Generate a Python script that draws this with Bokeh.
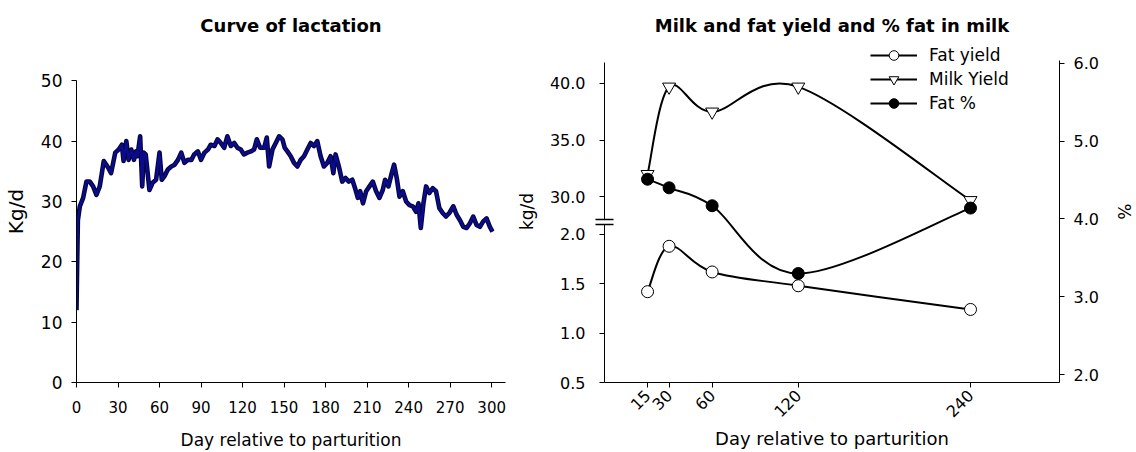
import math
import numpy as np
from bokeh.plotting import figure
from bokeh.layouts import row
from bokeh.models import (Range1d, LinearAxis, FixedTicker, NumeralTickFormatter,
                          Legend, LegendItem, Title)
from bokeh.embed import file_html
from bokeh.resources import INLINE

FONT = "DejaVu Sans"

# ---------------- Left panel data: daily milk yield ----------------
lact_day = [0, 0.5, 1.0, 2.4, 4.8, 7.2, 9.6, 12.0, 14.4, 16.8, 19.7, 22.4, 25.0, 28.0,
            30.5, 32.8, 34.0, 36.0, 37.6, 39.6, 41.5, 43.0, 44.0, 46.0, 47.5, 48.6, 50.0,
            52.7, 55.0, 57.5, 60.0, 61.6, 63.6, 66.0, 68.5, 70.9, 73.3, 75.7, 78.0, 80.5,
            83.0, 85.0, 87.7, 90.0, 92.5, 95.0, 97.0, 99.7, 101.9, 104.3, 106.7, 109.0,
            111.5, 114.0, 116.3, 118.7, 121.0, 123.5, 126.0, 128.3, 130.3, 132.7, 135.6,
            137.5, 139.2, 141.6, 144.0, 146.4, 148.8, 150.5, 152.4, 154.8, 157.2, 159.6,
            162.0, 164.4, 166.8, 169.2, 171.6, 174.0, 176.4, 178.8, 181.2, 183.6, 185.6,
            187.2, 189.6, 192.0, 194.4, 196.8, 199.3, 201.7, 203.3, 205.0, 207.0, 209.3,
            211.7, 214.1, 216.5, 218.9, 221.3, 223.0, 225.4, 227.8, 229.5, 231.4, 233.4,
            235.8, 238.2, 240.6, 243.0, 245.4, 247.1, 248.8, 250.7, 252.6, 255.0, 257.4,
            259.8, 262.2, 264.6, 267.0, 269.4, 272.3, 274.7, 277.1, 279.5, 281.9, 284.3,
            286.7, 289.1, 291.5, 293.9, 296.3, 298.7, 300.6]
lact_kg = [12.0, 20.0, 26.9, 29.2, 30.6, 33.3, 33.3, 32.5, 31.1, 32.5, 36.7, 35.8, 34.7, 38.1,
           38.6, 39.4, 36.7, 40.0, 36.9, 38.6, 36.9, 38.3, 37.5, 40.8, 32.5, 38.1, 37.8,
           31.9, 33.1, 33.6, 38.1, 33.6, 34.2, 35.3, 35.8, 36.1, 36.9, 38.1, 36.4, 36.9,
           36.9, 37.8, 38.3, 36.9, 38.1, 38.6, 39.4, 39.2, 40.3, 39.7, 38.9, 40.8,
           39.2, 39.7, 38.9, 38.6, 37.8, 38.1, 38.3, 38.6, 40.3, 38.9, 38.9,
           40.6, 35.8, 38.6, 39.7, 40.8, 40.3, 38.9, 38.3, 37.5, 36.4, 35.8,
           36.9, 37.5, 38.6, 39.7, 39.2, 40.0, 37.5, 35.8, 36.4, 37.5, 34.7,
           37.8, 35.8, 33.3, 33.9, 33.3, 33.6, 31.9, 30.6, 31.7, 29.7, 31.7,
           32.5, 33.3, 31.7, 30.6, 31.9, 33.6, 32.5, 34.7, 36.1, 33.9, 30.8,
           31.7, 30.0, 29.4, 29.2, 28.3, 29.7, 25.6, 29.7, 32.5, 31.4, 32.2,
           31.7, 28.9, 28.1, 27.5, 28.1, 29.2, 27.8, 26.9, 25.8, 25.6, 26.4,
           27.5, 26.1, 25.8, 26.7, 27.2, 25.8, 25.0]
lact_xticks = [0, 30, 60, 90, 120, 150, 180, 210, 240, 270, 300]
lact_yticks = [0, 10, 20, 30, 40, 50]

# ---------------- Right panel data ----------------
samp_day = [15, 30, 60, 120, 240]
fat_yield = [1.42, 1.88, 1.62, 1.48, 1.24]      # kg/d (lower left scale)
milk_yield = [32.0, 39.7, 37.5, 39.7, 29.7]     # kg/d (upper left scale)
fat_pct = [4.51, 4.40, 4.17, 3.30, 4.14]        # % (right scale)
fy_ticks = [0.5, 1.0, 1.5, 2.0]
my_ticks = [30, 35, 40]
my_tick_labels = ["30.0", "35.0", "40.0"]
pct_ticks = [2, 3, 4, 5, 6]


def cardinal_beziers(x, y):
    """Catmull-Rom (cardinal) curve through the points, as Bezier segments."""
    px = [x[0]] + list(x) + [x[-1]]
    py = [y[0]] + list(y) + [y[-1]]
    out = dict(x0=[], y0=[], x1=[], y1=[], cx0=[], cy0=[], cx1=[], cy1=[])
    for i in range(1, len(px) - 2):
        out["x0"].append(px[i]); out["y0"].append(py[i])
        out["x1"].append(px[i + 1]); out["y1"].append(py[i + 1])
        out["cx0"].append(px[i] + (px[i + 1] - px[i - 1]) / 6)
        out["cy0"].append(py[i] + (py[i + 1] - py[i - 1]) / 6)
        out["cx1"].append(px[i + 1] - (px[i + 2] - px[i]) / 6)
        out["cy1"].append(py[i + 1] - (py[i + 2] - py[i]) / 6)
    return out


def style_axis(ax, tick_size, label_size):
    ax.axis_line_color = "black"
    ax.major_tick_line_color = "black"
    ax.minor_tick_line_color = None
    ax.major_tick_in = 0
    ax.major_tick_out = 5
    ax.major_label_text_font = FONT
    ax.major_label_text_font_size = tick_size
    ax.major_label_text_color = "black"
    ax.axis_label_text_font = FONT
    ax.axis_label_text_font_size = label_size
    ax.axis_label_text_font_style = "normal"
    ax.axis_label_text_color = "black"


TOP, BOTTOM = 40, 70   # shared borders (row aligns the frames)

# ================= Left figure =================
Y_TOP_L = 56.68
p1 = figure(width=513, height=452, output_backend="svg", toolbar_location=None,
            x_range=Range1d(0, 310), y_range=Range1d(0, Y_TOP_L),
            min_border_left=75, min_border_right=8, min_border_top=TOP, min_border_bottom=BOTTOM)
p1.title = Title(text="Curve of lactation", align="center", text_font=FONT,
                 text_font_size="18px", text_font_style="bold", text_color="black")
p1.outline_line_color = None
p1.grid.visible = False
p1.xaxis.ticker = FixedTicker(ticks=lact_xticks)
p1.yaxis.ticker = FixedTicker(ticks=lact_yticks)
p1.yaxis.bounds = (0, 50)
p1.xaxis.axis_label = "Day relative to parturition"
p1.yaxis.axis_label = "Kg/d"
for ax in p1.xaxis:
    style_axis(ax, "15px", "17px")
for ax in p1.yaxis:
    style_axis(ax, "17px", "20px")
p1.xaxis.major_label_standoff = 13
p1.yaxis.major_label_standoff = 9
p1.xaxis.axis_label_standoff = 14
p1.yaxis.axis_label_standoff = 10

p1.line(lact_day, lact_kg, line_color="#05053a", line_width=4.6, line_join="round")
p1.line(lact_day, lact_kg, line_color="#0b0b8e", line_width=2.4, line_join="round")

# ================= Right figure =================
X0 = -15
FY_START, FY_END = 0.5, 3.965          # default range (fat yield, kg/d)
M30_POS, M_STEP = 2.38, 0.115          # where milk 30.0 sits on the left axis, per-kg step
MY_START = 30 + (FY_START - M30_POS) / M_STEP
MY_END = 30 + (FY_END - M30_POS) / M_STEP
BREAK = [2.1, 2.15]                    # axis break (default units)
LEFT_BOUNDS = (0.5, 3.745)

p2 = figure(width=623, height=452, output_backend="svg", toolbar_location=None,
            x_range=Range1d(X0, 302), y_range=Range1d(FY_START, FY_END),
            y_axis_location=None,
            min_border_left=89, min_border_right=75, min_border_top=TOP, min_border_bottom=BOTTOM)
p2.extra_y_ranges = {"milk": Range1d(MY_START, MY_END), "pct": Range1d(1.901, 6.291)}
p2.title = Title(text="Milk and fat yield and % fat in milk", align="center", text_font=FONT,
                 text_font_size="18px", text_font_style="bold", text_color="black")
p2.outline_line_color = None
p2.grid.visible = False

p2.xaxis.ticker = FixedTicker(ticks=samp_day)
p2.xaxis.major_label_orientation = math.pi / 4
p2.xaxis.axis_label = "Day relative to parturition"
for ax in p2.xaxis:
    style_axis(ax, "16px", "18px")
p2.xaxis.major_label_standoff = 5
p2.xaxis.axis_label_standoff = 2

# left axis: lower segment in fat-yield units, upper segment labelled in milk units
milk_pos = [round(M30_POS + (m - 30) * M_STEP, 4) for m in my_ticks]
ax_left = LinearAxis(ticker=FixedTicker(ticks=fy_ticks + milk_pos, minor_ticks=BREAK),
                     bounds=LEFT_BOUNDS, formatter=NumeralTickFormatter(format="0.0"),
                     axis_label="kg/d")
style_axis(ax_left, "16px", "17px")
ax_left.major_label_overrides = {pos: lab for pos, lab in zip(milk_pos, my_tick_labels)}
ax_left.major_label_standoff = 10
ax_left.axis_label_standoff = 10
ax_left.minor_tick_line_color = "black"
ax_left.minor_tick_line_width = 1.5
ax_left.minor_tick_in = 9
ax_left.minor_tick_out = 9
seg1 = round((BREAK[0] - LEFT_BOUNDS[0]) * 98.7)
gap = round((BREAK[1] - BREAK[0]) * 98.7)
ax_left.axis_line_dash = f"{seg1} {gap} 400"
p2.add_layout(ax_left, "left")

ax_pct = LinearAxis(y_range_name="pct", ticker=FixedTicker(ticks=pct_ticks), bounds=(1.901, 6.035),
                    formatter=NumeralTickFormatter(format="0.0"), axis_label="%")
style_axis(ax_pct, "16px", "17px")
ax_pct.major_label_standoff = 9
ax_pct.axis_label_standoff = 12
p2.add_layout(ax_pct, "right")

b_fy = p2.bezier(line_color="black", line_width=2, **cardinal_beziers(samp_day, fat_yield))
s_fy = p2.scatter(samp_day, fat_yield, marker="circle", size=12, fill_color="white",
                  line_color="black", line_width=1)
b_my = p2.bezier(line_color="black", line_width=2, y_range_name="milk",
                 **cardinal_beziers(samp_day, milk_yield))
s_my = p2.scatter(samp_day, milk_yield, marker="inverted_triangle", size=13, fill_color="white",
                  line_color="black", line_width=1, y_range_name="milk")
b_fp = p2.bezier(line_color="black", line_width=2, y_range_name="pct",
                 **cardinal_beziers(samp_day, fat_pct))
s_fp = p2.scatter(samp_day, fat_pct, marker="circle", size=12, fill_color="black",
                  line_color="black", line_width=1, y_range_name="pct")

legend = Legend(items=[LegendItem(label="Fat yield", renderers=[b_fy, s_fy]),
                       LegendItem(label="Milk Yield", renderers=[b_my, s_my]),
                       LegendItem(label="Fat %", renderers=[b_fp, s_fp])],
                location=(266, 267), padding=0, margin=0, spacing=0,
                label_height=24, glyph_height=24, glyph_width=47, label_standoff=12,
                label_text_font=FONT, label_text_font_size="17px", label_text_color="black",
                border_line_color=None, background_fill_alpha=0)
p2.add_layout(legend, "center")

layout = row(p1, p2)
open("out.html", "w").write(file_html(layout, INLINE))
